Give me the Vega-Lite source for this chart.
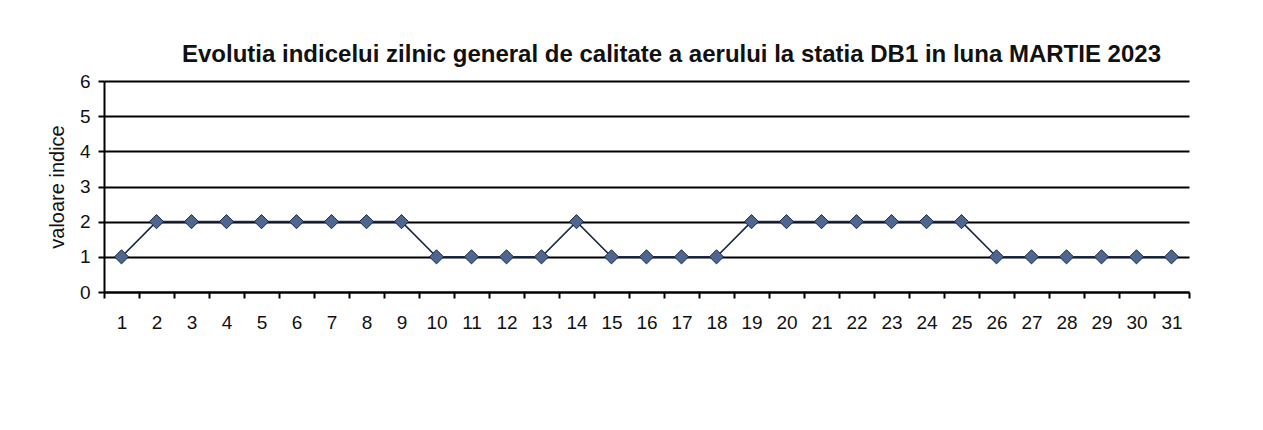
{
  "$schema": "https://vega.github.io/schema/vega-lite/v6.json",
  "autosize": {"type": "none"},
  "padding": {"left": 104, "top": 81, "right": 74, "bottom": 138},
  "width": 1085,
  "height": 211,
  "background": "white",
  "title": {
    "text": "Evolutia indicelui zilnic general de calitate a aerului  la statia DB1 in luna MARTIE 2023",
    "font": "Liberation Sans",
    "fontSize": 24,
    "fontWeight": "bold",
    "color": "#111111",
    "anchor": "middle",
    "dx": 25,
    "offset": 5
  },
  "data": {
    "values": [
      {"zi": 1, "indice": 1}, {"zi": 2, "indice": 2}, {"zi": 3, "indice": 2}, {"zi": 4, "indice": 2},
      {"zi": 5, "indice": 2}, {"zi": 6, "indice": 2}, {"zi": 7, "indice": 2}, {"zi": 8, "indice": 2},
      {"zi": 9, "indice": 2}, {"zi": 10, "indice": 1}, {"zi": 11, "indice": 1}, {"zi": 12, "indice": 1},
      {"zi": 13, "indice": 1}, {"zi": 14, "indice": 2}, {"zi": 15, "indice": 1}, {"zi": 16, "indice": 1},
      {"zi": 17, "indice": 1}, {"zi": 18, "indice": 1}, {"zi": 19, "indice": 2}, {"zi": 20, "indice": 2},
      {"zi": 21, "indice": 2}, {"zi": 22, "indice": 2}, {"zi": 23, "indice": 2}, {"zi": 24, "indice": 2},
      {"zi": 25, "indice": 2}, {"zi": 26, "indice": 1}, {"zi": 27, "indice": 1}, {"zi": 28, "indice": 1},
      {"zi": 29, "indice": 1}, {"zi": 30, "indice": 1}, {"zi": 31, "indice": 1}
    ]
  },
  "encoding": {
    "x": {
      "field": "zi",
      "type": "ordinal",
      "sort": "ascending",
      "scale": {"type": "band", "paddingInner": 0, "paddingOuter": 0},
      "axis": {
        "title": null,
        "labelAngle": 0,
        "tickBand": "extent",
        "domainColor": "#000000",
        "domainWidth": 2,
        "tickColor": "#000000",
        "tickWidth": 2,
        "tickSize": 6,
        "labelPadding": 15,
        "labelFont": "Liberation Sans",
        "labelFontSize": 19,
        "labelColor": "#111111",
        "grid": false
      }
    },
    "y": {
      "field": "indice",
      "type": "quantitative",
      "scale": {"domain": [0, 6], "nice": false},
      "axis": {
        "title": "valoare indice",
        "titleFont": "Liberation Sans",
        "titleFontSize": 20,
        "titleFontWeight": "normal",
        "titleColor": "#111111",
        "titlePadding": 12,
        "values": [0, 1, 2, 3, 4, 5, 6],
        "domainColor": "#000000",
        "domainWidth": 2,
        "tickColor": "#000000",
        "tickWidth": 2,
        "tickSize": 6,
        "labelPadding": 8,
        "labelFont": "Liberation Sans",
        "labelFontSize": 19,
        "labelColor": "#111111",
        "grid": true,
        "gridColor": "#000000",
        "gridWidth": 2,
        "gridOpacity": 1
      }
    }
  },
  "layer": [
    {"mark": {"type": "line", "color": "#1c2a44", "strokeWidth": 1.6}},
    {"mark": {"type": "point", "shape": "diamond", "size": 200, "filled": true, "fill": "#4e6790", "stroke": "#1c2a44", "strokeWidth": 1, "opacity": 1}}
  ],
  "config": {"view": {"stroke": null}}
}
